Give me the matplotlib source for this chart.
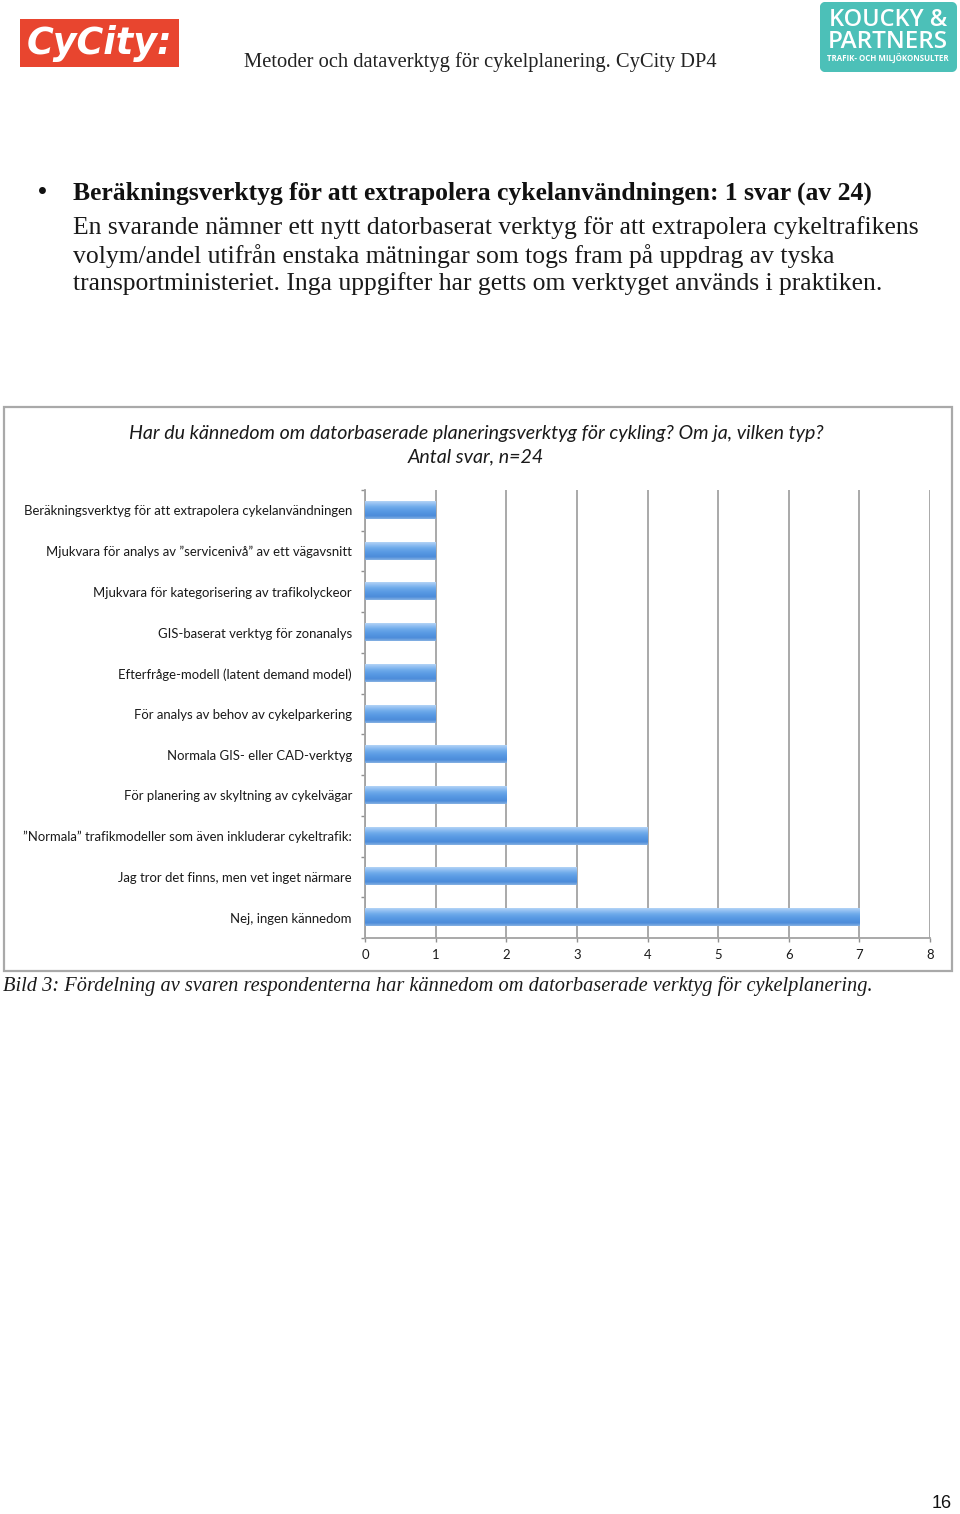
import matplotlib
matplotlib.use("Agg")
import matplotlib.pyplot as plt
import numpy as np
from matplotlib.patches import Rectangle, FancyBboxPatch
from matplotlib.colors import LinearSegmentedColormap

W, H = 960, 1514

# ---------------- data ----------------
categories = [
    "Beräkningsverktyg för att extrapolera cykelanvändningen",
    "Mjukvara för analys av ”servicenivå” av ett vägavsnitt",
    "Mjukvara för kategorisering av trafikolyckeor",
    "GIS-baserat verktyg för zonanalys",
    "Efterfråge-modell (latent demand model)",
    "För analys av behov av cykelparkering",
    "Normala GIS- eller CAD-verktyg",
    "För planering av skyltning av cykelvägar",
    "”Normala” trafikmodeller som även inkluderar cykeltrafik:",
    "Jag tror det finns, men vet inget närmare",
    "Nej, ingen kännedom",
]
values = [1, 1, 1, 1, 1, 1, 2, 2, 4, 3, 7]
x_ticks = [0, 1, 2, 3, 4, 5, 6, 7, 8]

header_text = "Metoder och dataverktyg för cykelplanering. CyCity DP4"
heading = "Beräkningsverktyg för att extrapolera cykelanvändningen: 1 svar (av 24)"
body_lines = [
    "En svarande nämner ett nytt datorbaserat verktyg för att extrapolera cykeltrafikens",
    "volym/andel utifrån enstaka mätningar som togs fram på uppdrag av tyska",
    "transportministeriet. Inga uppgifter har getts om verktyget används i praktiken.",
]
chart_title = [
    "Har du kännedom om datorbaserade planeringsverktyg för cykling? Om ja, vilken typ?",
    "Antal svar, n=24",
]
caption = "Bild 3: Fördelning av svaren respondenterna har kännedom om datorbaserade verktyg för cykelplanering."
page_number = "16"

# ---------------- figure ----------------
fig = plt.figure(figsize=(W / 100, H / 100), dpi=100)
fig.patch.set_facecolor("white")
renderer = fig.canvas.get_renderer()


def fx(x):
    return x / W


def fy(y):
    return 1 - y / H


def fit_size(s, target_w, fs0=12, **kw):
    t = fig.text(0, 0, s, fontsize=fs0, **kw)
    w = t.get_window_extent(renderer).width
    t.remove()
    return fs0 * target_w / w


def put(x, y, s, fs, **kw):
    kw.setdefault("va", "center")
    return fig.text(fx(x), fy(y), s, fontsize=fs, **kw)


SERIF = "Liberation Serif"
SANS = "Lato"

# header
fs = fit_size(header_text, 472, family=SERIF)
put(244, 62, header_text, fs, family=SERIF, color="#222222")

# CyCity logo
fig.patches.append(Rectangle((fx(20), fy(67)), 159 / W, 48 / H,
                             transform=fig.transFigure, fc="#e8452f", ec="none"))
fs = fit_size("CyCity:", 146, family="DejaVu Sans", weight="bold", style="italic")
put(100, 44, "CyCity:", fs, family="DejaVu Sans", weight="bold", style="italic",
    color="white", ha="center")

# Koucky & Partners logo (own axes in pixel units)
lax = fig.add_axes([fx(820), fy(72), 137 / W, 70 / H])
lax.set_xlim(0, 137)
lax.set_ylim(70, 0)
lax.axis("off")
box = FancyBboxPatch((0, 0), 137, 70, boxstyle="round,pad=0,rounding_size=6",
                     fc="#4cc0b8", ec="none")
lax.add_patch(box)
tcm = LinearSegmentedColormap.from_list("teal", ["#3bb4ad", "#52c3bb", "#7dd6cf"])
grad = np.tile(np.linspace(0, 1, 64), (32, 1))
im = lax.imshow(grad, cmap=tcm, extent=(0, 137, 70, 0), aspect="auto")
im.set_clip_path(box)
fsk = fit_size("KOUCKY &", 118, family="Open Sans", weight="semibold")
put(888, 20, "KOUCKY &", fsk, family="Open Sans", weight="semibold", color="white", ha="center")
fsk = fit_size("PARTNERS", 120, family="Open Sans", weight="semibold")
put(888, 42, "PARTNERS", fsk, family="Open Sans", weight="semibold", color="white", ha="center")
fsk = fit_size("TRAFIK- OCH MILJÖKONSULTER", 120, family="Open Sans", weight="bold")
put(888, 59, "TRAFIK- OCH MILJÖKONSULTER", fsk, family="Open Sans", weight="bold",
    color="white", ha="center")

# bullet section
fs = fit_size(heading, 792, family=SERIF, weight="bold")
put(38, 193, "•", fs, family=SERIF, weight="bold", color="#111111")
put(73, 193, heading, fs, family=SERIF, weight="bold", color="#111111")
fsb = fit_size(body_lines[0], 842, family=SERIF)
for i, line in enumerate(body_lines):
    put(73, 228 + 28 * i, line, fsb, family=SERIF, color="#1a1a1a")

# chart frame
fig.patches.append(Rectangle((fx(4), fy(971)), 948 / W, 564 / H,
                             transform=fig.transFigure, fill=False,
                             ec="#a9a9a9", lw=1.6))

# chart title
fst = fit_size(chart_title[0], 693, family=SANS, style="italic")
put(476, 434, chart_title[0], fst, family=SANS, style="italic", color="#1a1a1a", ha="center")
put(476, 457, chart_title[1], fst, family=SANS, style="italic", color="#1a1a1a", ha="center")

# chart axes
ax = fig.add_axes([fx(365), fy(938), 565 / W, 448 / H])
ypos = np.arange(len(categories))
bars = ax.barh(ypos, values, height=0.42, color="#6aa6e8", zorder=3)
bcm = LinearSegmentedColormap.from_list(
    "barblue", ["#b3d3f6", "#8dbdf1", "#6eaaea", "#5d9de5", "#5394e0", "#4d8cd9", "#86b2e3"])
bgrad = np.linspace(0, 1, 64).reshape(-1, 1)
for p in bars:
    x0, w = p.get_x(), p.get_width()
    y0, h = p.get_y(), p.get_height()
    ax.imshow(bgrad, cmap=bcm, extent=(x0, x0 + w, y0 + h, y0), aspect="auto",
              zorder=4, interpolation="bilinear")
ax.set_xlim(0, 8)
ax.set_ylim(len(categories) - 0.5, -0.5)
ax.set_xticks(x_ticks)
ax.set_xticklabels([str(v) for v in x_ticks])
ax.set_yticks(np.arange(-0.5, len(categories), 1))
ax.set_yticklabels([])
ax.set_yticks(ypos, minor=True)
ax.set_yticklabels(categories, minor=True)
fsl = fit_size(categories[0], 330, family=SANS)
for lab in ax.get_yticklabels(minor=True):
    lab.set_fontfamily(SANS)
    lab.set_fontsize(fsl)
    lab.set_color("#1a1a1a")
for lab in ax.get_xticklabels():
    lab.set_fontfamily(SANS)
    lab.set_fontsize(fsl)
    lab.set_color("#1a1a1a")
ax.tick_params(axis="y", which="minor", length=0, pad=9.4)
ax.tick_params(axis="y", which="major", length=3, width=1, color="#909090", direction="out")
ax.tick_params(axis="x", length=3, width=1, color="#909090", pad=5)
ax.grid(axis="x", color="#a3a3a3", lw=1.3, zorder=1)
for s in ["top", "right"]:
    ax.spines[s].set_visible(False)
for s in ["left", "bottom"]:
    ax.spines[s].set_color("#a3a3a3")
    ax.spines[s].set_linewidth(1.3)

# caption
fsc = fit_size(caption, 867, family=SERIF, style="italic")
put(3, 986, caption, fsc, family=SERIF, style="italic", color="#1a1a1a")

# page number
fsp = fit_size(page_number, 20, family="Liberation Sans")
put(942, 1504, page_number, fsp, family="Liberation Sans", color="#111111", ha="center")

fig.savefig("out.png", dpi=100, facecolor="white")
